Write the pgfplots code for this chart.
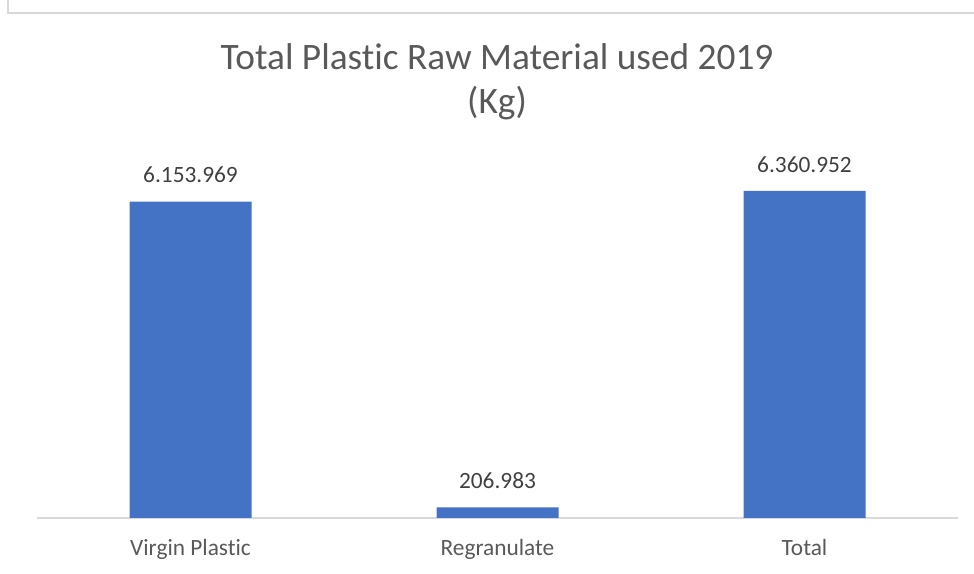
\documentclass[border=0pt]{standalone}
\usepackage{pgfplots}
\pgfplotsset{compat=1.18}
\usepackage{fontspec}
\setmainfont{Carlito}[RawFeature={-liga;-clig}]
\definecolor{barblue}{HTML}{4472C4}
\definecolor{txtgrey}{HTML}{595959}
\definecolor{lblgrey}{HTML}{404040}
\definecolor{linegrey}{HTML}{D9D9D9}
\begin{document}
\begin{tikzpicture}[x=0.75pt,y=0.75pt]
% picture frame, 974 x 574 px
\useasboundingbox (0,0) rectangle (974,574);
\draw[linegrey, line width=1.5pt] (8,574) -- (8,561) -- (974,561);
% title
\node[anchor=base, text=txtgrey, font=\fontsize{28}{34}\selectfont, inner sep=0pt] at (497,504) {Total Plastic Raw Material used 2019};
\node[anchor=base, text=txtgrey, font=\fontsize{28}{34}\selectfont, inner sep=0pt] at (497,460) {(Kg)};
\begin{axis}[
    at={(27.75pt,42pt)}, anchor=south west,
    scale only axis,
    width=690.75pt, height=269.9pt,
    xmin=-0.5, xmax=2.5,
    ymin=0, ymax=7000000,
    axis x line=bottom, axis y line=none,
    axis line style={linegrey, line width=1.2pt, -},
    xtick=data,
    xticklabels={Virgin Plastic, Regranulate, Total},
    major tick length=0pt,
    xticklabel style={anchor=base, yshift=-28.5pt, text=txtgrey, font=\fontsize{17.5}{20}\selectfont},
    ytick=\empty,
    clip=false,
]
\addplot[ybar, bar width=91.5pt, fill=barblue, draw=none,
    point meta=explicit symbolic,
    nodes near coords,
    every node near coord/.style={anchor=base, inner sep=0pt, yshift=14pt, text=lblgrey, font=\fontsize{17.5}{20}\selectfont}]
  coordinates {
    (0,6153969) [6.153.969]
    (1,206983) [206.983]
    (2,6360952) [6.360.952]
  };
\end{axis}
\end{tikzpicture}
\end{document}
